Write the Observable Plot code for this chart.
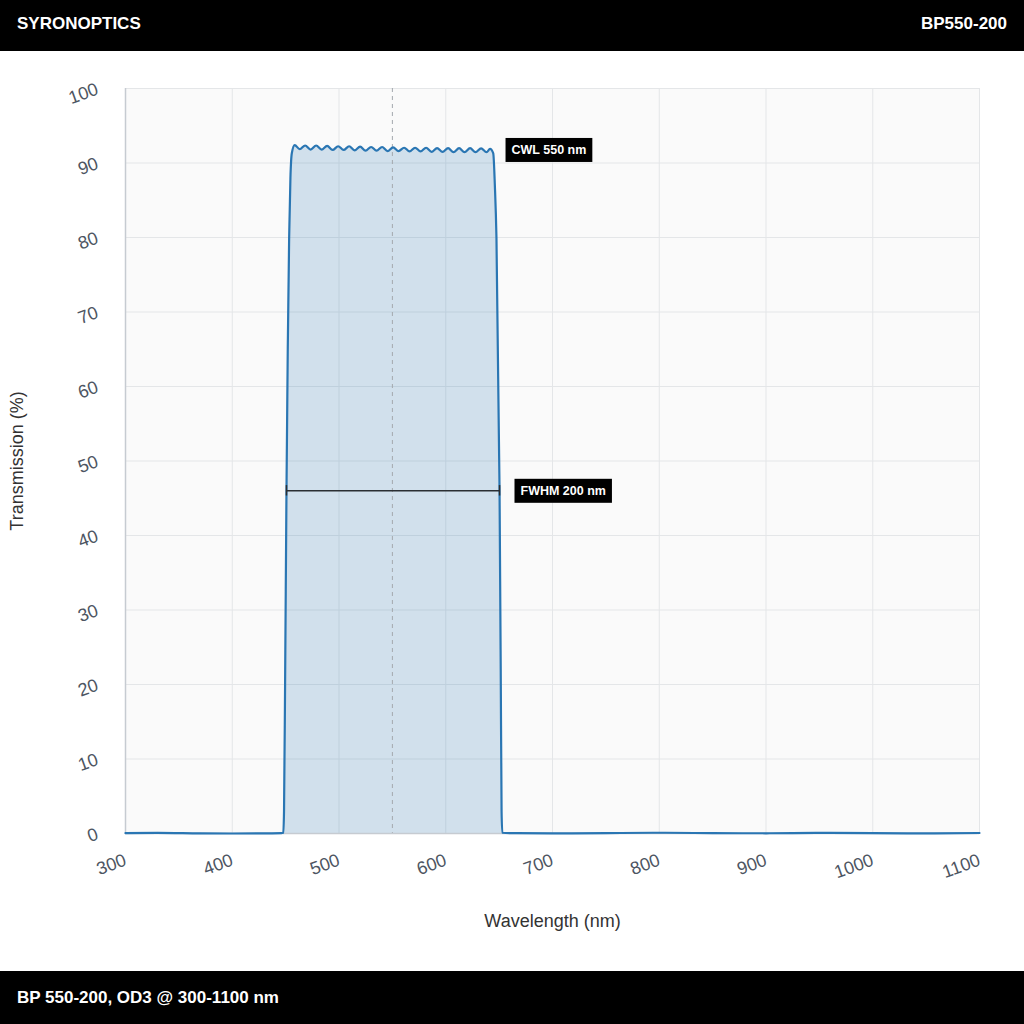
<!DOCTYPE html>
<html>
<head>
<meta charset="utf-8">
<script src="https://cdn.jsdelivr.net/npm/d3@7"></script>
<script src="https://cdn.jsdelivr.net/npm/@observablehq/plot@0.6"></script>
<style>
  html, body { margin: 0; padding: 0; background: #fff; width: 1024px; height: 1024px; overflow: hidden; }
  body { font-family: "Liberation Sans", Arial, Helvetica, sans-serif; }
  .bar { background: #000; color: #fff; font-weight: bold; font-size: 17px; box-sizing: border-box; display: flex; align-items: center; justify-content: space-between; padding: 0 17px; }
  #header { height: 51px; padding-bottom: 4px; }
  #footer { height: 53px; }
  #chart { height: 920px; }
</style>
</head>
<body>
<div id="header" class="bar"><span>SYRONOPTICS</span><span>BP550-200</span></div>
<div id="chart"></div>
<div id="footer" class="bar"><span>BP 550-200, OD3 @ 300-1100 nm</span></div>
<script>
// ---- data ----
const wavelengths = [
  300, 330, 370, 400, 430, 446, 447.8, 448.5, 449.5, 450.8, 452, 453.3, 454.5, 455.8,
  458.5, 463.2, 468.3, 473.4, 478.6, 483.7, 488.9, 494.0, 499.2, 504.3, 509.5, 514.6,
  519.8, 524.9, 530.1, 535.2, 540.4, 545.5, 550.7, 555.8, 561.0, 566.1, 571.3, 576.4,
  581.6, 586.7, 591.9, 597.0, 602.2, 607.3, 612.5, 617.6, 622.8, 627.9, 633.1, 638.2,
  641.5, 644.5, 646, 647.5, 650.4, 651.5, 652.3, 653, 660, 700, 750, 800, 850, 900,
  950, 1000, 1050, 1100
];
const transmission = [
  0.05, 0.08, 0.02, 0.0, 0.02, 0.05, 0.1, 3, 20, 46, 65, 80, 88, 91.3,
  92.4, 91.85, 92.35, 91.8, 92.35, 91.8, 92.3, 91.75, 92.25, 91.75, 92.25, 91.7,
  92.2, 91.65, 92.15, 91.65, 92.15, 91.6, 92.1, 91.6, 92.05, 91.55, 92.05, 91.55,
  92.05, 91.5, 92.0, 91.5, 92.0, 91.45, 92.0, 91.45, 92.0, 91.45, 91.95, 91.45,
  91.9, 91.3, 87, 80, 46, 22, 3, 0.1, 0.05, 0.02, 0.05, 0.1, 0.05, 0.03,
  0.08, 0.04, 0.01, 0.07
];
const xTicks = [300, 400, 500, 600, 700, 800, 900, 1000, 1100];
const yTicks = [0, 10, 20, 30, 40, 50, 60, 70, 80, 90, 100];
const cwl = [550];
const fwhm = [{x1: 450.8, x2: 650.4, y: 46}];
const fwhmEnds = [450.8, 650.4];
const labels = [
  {text: "CWL 550 nm", x: 656, y: 91.75},
  {text: "FWHM 200 nm", x: 664.4, y: 46}
];
const xLabel = "Wavelength (nm)";
const yLabel = "Transmission (%)";

const spectrum = wavelengths.map((w, i) => ({w, t: transmission[i]}));
const font = '"Liberation Sans", Arial, Helvetica, sans-serif';

const chart = Plot.plot({
  width: 1024,
  height: 920,
  marginTop: 37,
  marginBottom: 138,
  marginLeft: 125,
  marginRight: 45,
  x: {domain: [300, 1100]},
  y: {domain: [0, 100]},
  style: {fontFamily: font, fontSize: "17px", background: "#fff", overflow: "visible"},
  marks: [
    Plot.frame({fill: "#fafafa", stroke: null}),
    Plot.gridX(xTicks, {stroke: "#e4e6e8", strokeOpacity: 1}),
    Plot.gridY(yTicks, {stroke: "#e4e6e8", strokeOpacity: 1}),
    Plot.areaY(spectrum, {x: "w", y: "t", curve: "monotone-x", fill: "#2b79b6", fillOpacity: 0.2}),
    Plot.ruleX(cwl, {stroke: "#a3a8ad", strokeDasharray: "4,4", strokeWidth: 1}),
    Plot.ruleX([300], {stroke: "#c6cbd1", strokeWidth: 1.5}),
    Plot.ruleY([0], {stroke: "#c6cbd1", strokeWidth: 1.5}),
    Plot.lineY(spectrum, {x: "w", y: "t", curve: "monotone-x", stroke: "#2a76b3", strokeWidth: 2.2}),
    Plot.ruleY(fwhm, {x1: "x1", x2: "x2", y: "y", stroke: "#2b2f33", strokeWidth: 1.5}),
    Plot.ruleX(fwhmEnds, {y1: 45.3, y2: 46.7, stroke: "#2b2f33", strokeWidth: 1.5}),
    Plot.text(labels, {x: "x", y: "y", text: "text", textAnchor: "start", dx: 6, fill: "#fff",
      fontWeight: "bold", fontSize: 12.5}),
    Plot.axisX(xTicks, {tickSize: 0, tickPadding: 26, tickRotate: -20, label: null, fill: "#4d5562",
      fontSize: 18, tickFormat: d => String(d)}),
    Plot.axisY(yTicks, {tickSize: 0, tickPadding: 28, tickRotate: -20, label: null, fill: "#4d5562",
      fontSize: 18, tickFormat: d => String(d)}),
    Plot.text([xLabel], {frameAnchor: "bottom", textAnchor: "middle", lineAnchor: "middle", dy: 88, fill: "#333", fontSize: 18}),
    Plot.text([yLabel], {frameAnchor: "left", textAnchor: "middle", lineAnchor: "middle", rotate: -90, dx: -108, fill: "#333", fontSize: 18})
  ]
});

document.getElementById("chart").appendChild(chart);

// black label boxes behind annotation texts
const ns = "http://www.w3.org/2000/svg";
const labelTexts = new Set(labels.map(d => d.text));
Array.from(chart.querySelectorAll("text"))
  .filter(t => labelTexts.has(t.textContent.trim()))
  .forEach(t => {
    const b = t.getBBox();
    const r = document.createElementNS(ns, "rect");
    r.setAttribute("x", b.x - 6);
    r.setAttribute("y", b.y - 5);
    r.setAttribute("width", b.width + 12);
    r.setAttribute("height", b.height + 10);
    r.setAttribute("fill", "#000");
    if (t.getAttribute("transform")) r.setAttribute("transform", t.getAttribute("transform"));
    t.parentNode.insertBefore(r, t);
  });
</script>
</body>
</html>
